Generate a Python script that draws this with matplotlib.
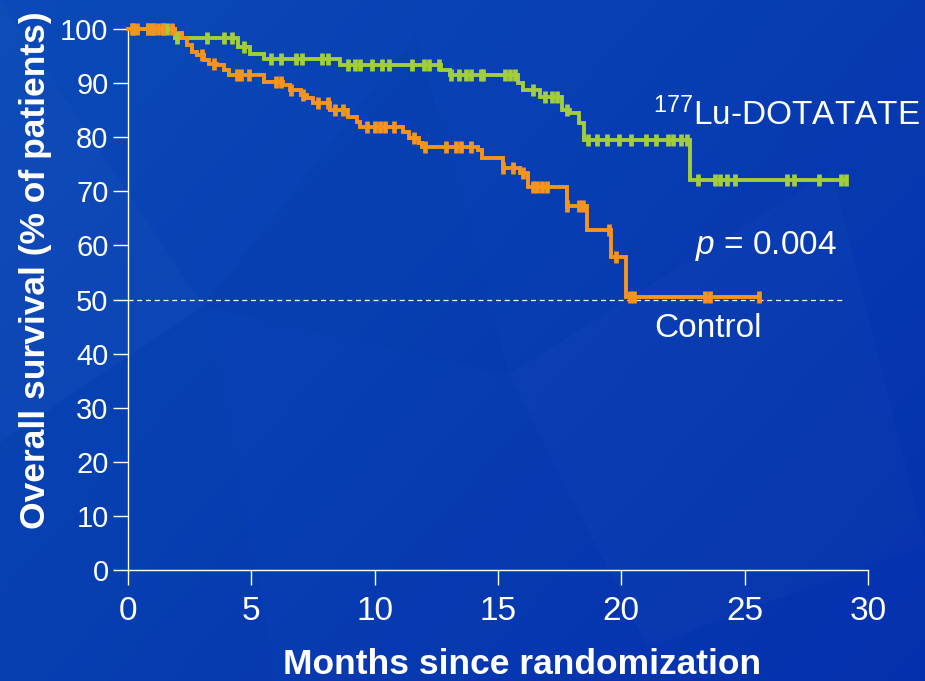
import numpy as np
import matplotlib
matplotlib.use('Agg')
import matplotlib.pyplot as plt
from matplotlib.patches import Polygon
from matplotlib import font_manager

plt.rcParams['font.family'] = ['Liberation Sans', 'DejaVu Sans']
plt.rcParams['mathtext.fontset'] = 'custom'
plt.rcParams['mathtext.rm'] = 'Liberation Sans'
plt.rcParams['mathtext.it'] = 'Liberation Sans:italic'

# Kaplan-Meier steps: time of each drop (months) and survival after it (%)
lu_times = [0, 1.9, 4.45, 4.95, 5.5, 8.6, 12.7, 13.05, 15.8, 16.0, 16.7,
            17.6, 17.9, 18.3, 18.5, 22.8]
lu_surv = [100, 98.3, 96.7, 95.3, 94.5, 93.3, 92.4, 91.5, 90.0, 88.7, 87.4,
           85.0, 84.5, 82.6, 79.5, 72.1]
lu_censor = [0.2, 0.8, 1.0, 1.4, 1.6, 2.0, 3.2, 3.9, 4.2, 4.7, 5.8, 6.2, 6.8,
             7.05, 7.85, 8.1, 8.9, 9.2, 9.4, 9.9, 10.3, 10.6, 11.5, 12.0, 12.2,
             12.6, 13.1, 13.4, 13.7, 13.9, 14.3, 14.4, 15.3, 15.5, 15.7, 16.4,
             16.9, 17.2, 17.4, 17.8, 18.65, 19.0, 19.4, 19.9, 20.4, 21.0, 21.4,
             21.9, 22.1, 22.4, 22.65, 23.1, 23.8, 24.0, 24.3, 24.6, 26.7, 27.0,
             28.0, 28.9, 29.1]
lu_end = 29.1

ctl_times = [0, 1.9, 2.2, 2.4, 2.6, 2.8, 3.1, 3.3, 3.6, 3.9, 4.1, 5.5, 6.3,
             6.55, 7.0, 7.25, 7.5, 8.2, 8.9, 9.3, 9.4, 11.15, 11.4, 11.8, 11.9,
             14.2, 14.35, 15.2, 15.9, 16.2, 17.8, 18.6, 19.6, 20.2]
ctl_surv = [100, 99.2, 98.3, 97.0, 95.7, 95.2, 94.3, 93.6, 93.3, 92.4, 91.5,
            90.2, 89.6, 88.7, 87.8, 87.2, 86.3, 85.0, 83.7, 82.8, 81.9, 81.0,
            79.9, 78.9, 78.2, 77.6, 76.2, 74.4, 73.4, 70.8, 67.3, 62.8, 57.8,
            50.5]
ctl_censor = [0.15, 0.35, 0.8, 1.0, 1.2, 1.4, 1.8, 3.0, 3.5, 4.4, 4.6, 4.9,
              6.0, 6.2, 6.6, 7.1, 7.7, 8.1, 8.4, 8.7, 9.7, 10.0, 10.2, 10.4,
              10.8, 11.6, 12.05, 12.9, 13.3, 13.5, 13.9, 15.2, 15.6, 16.0, 16.4,
              16.6, 16.8, 17.0, 17.8, 18.3, 18.45, 19.5, 19.8, 20.35, 20.5,
              23.4, 23.6, 25.6]
ctl_end = 25.6

x_ticks = [0, 5, 10, 15, 20, 25, 30]
y_ticks = [0, 10, 20, 30, 40, 50, 60, 70, 80, 90, 100]

GREEN = '#a3cd39'
ORANGE = '#f7941d'


def step_at(times, surv, t):
    idx = np.searchsorted(times, t, side='right') - 1
    return np.asarray(surv)[idx]


# narrow face for the y tick labels if the system has it
try:
    font_manager.findfont('Liberation Sans Narrow', fallback_to_default=False)
    ytick_font, ytick_size = 'Liberation Sans Narrow', 25
except ValueError:
    ytick_font, ytick_size = 'Liberation Sans', 21

fig = plt.figure(figsize=(9.25, 6.81), dpi=100)

# blue slide background with a few faint facets
bg = fig.add_axes([0, 0, 1, 1])
gx = np.linspace(0, 1, 256)
gy = np.linspace(0, 1, 256)
GX, GY = np.meshgrid(gx, gy)
top = np.array([0.04, 0.29, 0.72])
bot = np.array([0.02, 0.19, 0.68])
w = (0.6 * GX + 0.4 * GY)[..., None]
img = top * (1 - w) + bot * w
bg.imshow(img, extent=[0, 1, 0, 1], aspect='auto', origin='upper')
facets = [
    ([(0, 1), (0.22, 0.55), (0, 0.35)], 0.02),
    ([(0.22, 0.55), (0.45, 0.95), (0.55, 0.45)], -0.015),
    ([(0.55, 0.45), (0.9, 0.75), (1, 0.2), (0.7, 0.05)], 0.015),
    ([(0, 0.35), (0.22, 0.55), (0.3, 0.0), (0, 0)], -0.01),
]
for pts, d in facets:
    col = 'white' if d > 0 else 'black'
    bg.add_patch(Polygon(pts, closed=True, facecolor=col, alpha=abs(d),
                         edgecolor='none'))
bg.set_xlim(0, 1)
bg.set_ylim(0, 1)
bg.axis('off')

ax = fig.add_axes([0.1384, 0.163, 0.8, 0.7944])
ax.patch.set_alpha(0)

for times, surv, cens, end, col in [
        (lu_times, lu_surv, lu_censor, lu_end, GREEN),
        (ctl_times, ctl_surv, ctl_censor, ctl_end, ORANGE)]:
    xs = list(times) + [end]
    ys = list(surv) + [surv[-1]]
    ax.step(xs, ys, where='post', color=col, lw=2.8, clip_on=False,
            solid_joinstyle='miter', zorder=3)
    cy = step_at(times, surv, np.array(cens))
    ax.plot(cens, cy, ls='none', marker='|', ms=8, mew=3.4, color=col,
            clip_on=False, zorder=4)

ax.axhline(50, xmin=0, xmax=29 / 30, color='white', lw=0.9, ls=(0, (4, 3)),
           zorder=2)

ax.set_xlim(0, 30)
ax.set_ylim(0, 100)
ax.set_xticks(x_ticks)
ax.set_yticks(y_ticks)
for s in ['top', 'right']:
    ax.spines[s].set_visible(False)
for s in ['left', 'bottom']:
    ax.spines[s].set_color('white')
    ax.spines[s].set_linewidth(1.0)
ax.tick_params(axis='x', colors='white', length=11, width=1.0, pad=8,
               labelsize=24)
ax.tick_params(axis='y', colors='white', length=11, width=1.0, pad=3,
               labelsize=ytick_size)
for lbl in ax.get_yticklabels():
    lbl.set_family(ytick_font)

ax.set_xlabel('Months since randomization', color='white', fontsize=25.5,
              fontweight='bold')
ax.set_ylabel('Overall survival (% of patients)', color='white', fontsize=25.5,
              fontweight='bold')
ax.xaxis.set_label_coords(0.532, -0.145)
ax.yaxis.set_label_coords(-0.103, 0.555)

ax.text(21.3, 84.1, r'$^{177}$Lu-DOTATATE', color='white', fontsize=24,
        ha='left', va='center')
ax.text(23.0, 59.9, r'$p$ = 0.004', color='white', fontsize=24,
        ha='left', va='center')
ax.text(23.5, 44.7, 'Control', color='white', fontsize=24,
        ha='center', va='center')

fig.savefig('out.png', dpi=100)
